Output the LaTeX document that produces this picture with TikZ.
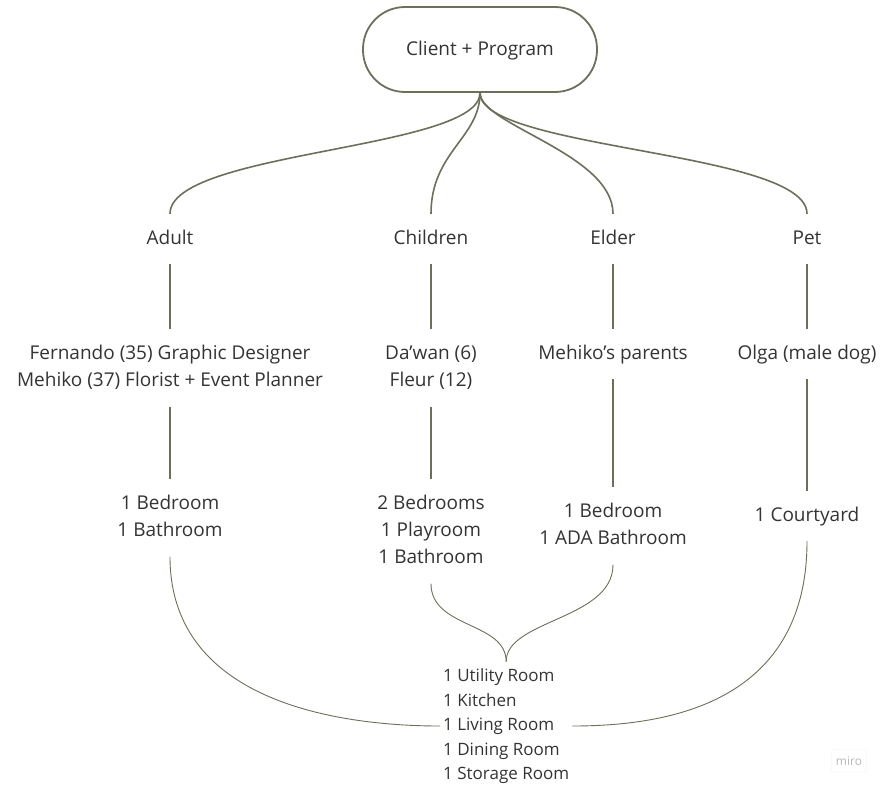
\documentclass[tikz,border=0pt]{standalone}
\usepackage{fontspec}
\setmainfont{Open Sans}
\usetikzlibrary{positioning}

\definecolor{linegreen}{RGB}{108,111,90}
\definecolor{textgray}{RGB}{52,52,52}

\begin{document}
\begin{tikzpicture}[x=1pt,y=-1pt,
    txtnode/.style={font=\fontsize{19}{27}\selectfont, text=textgray, align=center,
        inner xsep=2pt, inner ysep=11.5pt, execute at end node=\strut},
    topline/.style={draw=linegreen, line width=1.6pt},
    lowline/.style={draw=linegreen, line width=0.9pt}]

    % Canvas
    \fill[white] (0,0) rectangle (883,793);
    \useasboundingbox (0,0) rectangle (883,793);

    % --- Root ---
    \node[draw=linegreen, line width=1.8pt, rounded corners=42pt, minimum width=234pt,
          minimum height=85pt, font=\fontsize{19}{27}\selectfont, text=textgray,
          text depth=3pt] (client) at (480,49.5) {Client + Program};

    % --- Groups ---
    \node[txtnode] (adult)    at (170,239) {\strut Adult};
    \node[txtnode] (children) at (431,239) {\strut Children};
    \node[txtnode] (elder)    at (613,239) {\strut Elder};
    \node[txtnode] (pet)      at (807,239) {\strut Pet};

    % --- Members ---
    \node[txtnode] (adultppl) at (170,368) {\strut Fernando (35) Graphic Designer\\Mehiko (37) Florist + Event Planner};
    \node[txtnode] (childppl) at (431,368) {\strut Da’wan (6)\\Fleur (12)};
    \node[txtnode] (elderppl) at (613,354) {\strut Mehiko’s parents};
    \node[txtnode] (petppl)   at (807,354) {\strut Olga (male dog)};

    % --- Private rooms ---
    \node[txtnode] (adultrooms) at (170,518) {\strut 1 Bedroom\\1 Bathroom};
    \node[txtnode] (childrooms) at (431,531.5) {\strut 2 Bedrooms\\1 Playroom\\1 Bathroom};
    \node[txtnode] (elderrooms) at (613,526) {\strut 1 Bedroom\\1 ADA Bathroom};
    \node[txtnode] (petrooms)   at (807,516) {\strut 1 Courtyard};

    % --- Shared rooms ---
    \node[txtnode, font=\fontsize{17}{24.5}\selectfont, align=left, inner xsep=3pt, inner ysep=3pt,
          anchor=west] (shared) at (440,726)
          {\strut 1 Utility Room\\1 Kitchen\\1 Living Room\\1 Dining Room\\1 Storage Room};

    % Root to groups
    \draw[topline] (client.south) .. controls +(0,57) and +(0,-63) .. (adult.north);
    \draw[topline] (client.south) .. controls +(0,45) and +(0,-62) .. (children.north);
    \draw[topline] (client.south) .. controls +(0,32) and +(0,-60) .. (elder.north);
    \draw[topline] (client.south) .. controls +(0,57) and +(0,-63) .. (pet.north);

    % Vertical links
    \foreach \a/\b/\c in {adult/adultppl/adultrooms, children/childppl/childrooms,
                          elder/elderppl/elderrooms, pet/petppl/petrooms}{
        \draw[topline] (\a.south) -- (\b.north);
        \draw[topline] (\b.south) -- (\c.north);
    }

    % Private rooms to shared rooms
    \draw[lowline] (adultrooms.south) .. controls +(0,150) and +(-90,0) .. (shared.west);
    \draw[lowline] (petrooms.south) .. controls +(0,165) and +(90,0) .. (shared.east);
    \draw[lowline] (childrooms.south) .. controls +(0,45) and +(0,-40) .. (shared.north);
    \draw[lowline] (elderrooms.south) .. controls +(0,55) and +(0,-42) .. (shared.north);

    % Watermark
    \node[draw=gray!10, rounded corners=2pt, text=gray!55, font=\fontsize{12}{14}\selectfont,
          minimum width=35pt, minimum height=22pt, inner sep=2pt] (miro) at (849,761) {miro};

\end{tikzpicture}
\end{document}
